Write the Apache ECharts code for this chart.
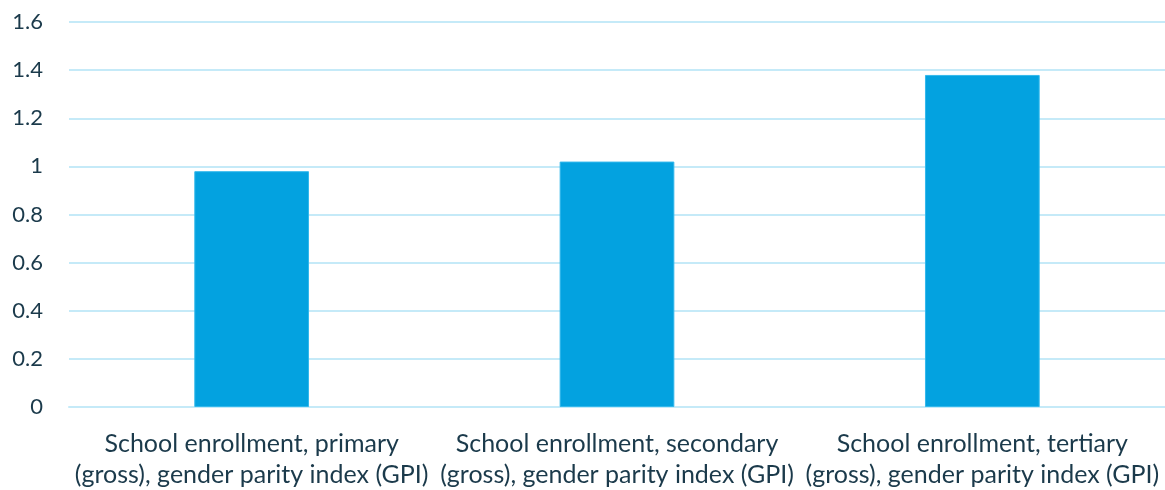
<!DOCTYPE html>
<html>
<head>
<meta charset="utf-8">
<script src="https://cdn.jsdelivr.net/npm/echarts@6/dist/echarts.min.js"></script>
<style>
  html, body { margin: 0; padding: 0; background: #ffffff; }
  #chart { width: 1165px; height: 490px; }
</style>
</head>
<body>
<div id="chart"></div>
<script>
// Gender parity index of gross school enrollment by level
const categories = [
  'School enrollment, primary\n(gross), gender parity index (GPI)',
  'School enrollment, secondary\n(gross), gender parity index (GPI)',
  'School enrollment, tertiary\n(gross), gender parity index (GPI)'
];
const gpiValues = [0.98, 1.02, 1.38];

const textColor = '#1b3a4b';
const fontFamily = 'Lato, "Open Sans", "Liberation Sans", sans-serif';

const chart = echarts.init(document.getElementById('chart'), null, { renderer: 'canvas' });
chart.setOption({
  animation: false,
  backgroundColor: '#ffffff',
  grid: { left: 69, right: 0, top: 22, bottom: 81, containLabel: false },
  xAxis: {
    type: 'category',
    data: categories,
    axisLine: { show: true, lineStyle: { color: '#c5eaf8', width: 2 } },
    axisTick: { show: false },
    axisLabel: {
      interval: 0,
      margin: 21,
      color: textColor,
      fontFamily: fontFamily,
      fontSize: 25,
      lineHeight: 31,
      align: 'center'
    }
  },
  yAxis: {
    type: 'value',
    min: 0,
    max: 1.6,
    interval: 0.2,
    axisLine: { show: false },
    axisTick: { show: false },
    splitLine: { show: true, lineStyle: { color: '#c5eaf8', width: 2 } },
    axisLabel: {
      margin: 26,
      color: textColor,
      fontFamily: fontFamily,
      fontSize: 22,
      formatter: v => String(Math.round(v * 10) / 10)
    }
  },
  series: [{
    type: 'bar',
    data: gpiValues,
    barWidth: '31.4%',
    itemStyle: { color: '#03a2e0', borderColor: '#33b8ec', borderWidth: 1 }
  }]
});
</script>
</body>
</html>
